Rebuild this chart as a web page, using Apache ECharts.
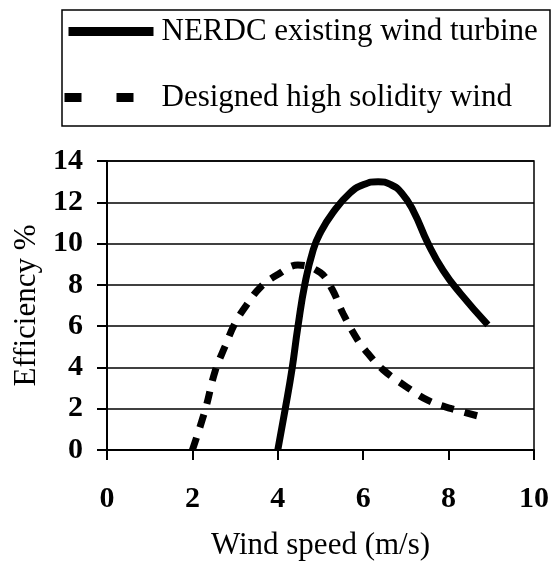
<!DOCTYPE html>
<html>
<head>
<meta charset="utf-8">
<script src="https://cdn.jsdelivr.net/npm/echarts@6/dist/echarts.min.js"></script>
<style>html,body{margin:0;padding:0;background:#fff}#c{width:553px;height:566px}</style>
</head>
<body>
<div id="c"></div>
<script>
const seriesNames = ['NERDC existing wind turbine', 'Designed high solidity wind'];
const nerdcX = [4.0, 4.17, 4.33, 4.47, 4.64, 4.83, 4.99, 5.29, 5.69, 6.0, 6.35, 6.65, 6.9, 7.17, 7.52, 7.87, 8.27, 8.92];
const nerdcY = [0.0, 1.94, 3.88, 5.96, 8.1, 9.7, 10.5, 11.5, 12.45, 12.85, 13.0, 12.85, 12.45, 11.6, 10.0, 8.7, 7.6, 6.06];
const designX = [2.0, 2.3, 2.53, 2.76, 3.0, 3.26, 3.6, 4.0, 4.47, 4.99, 5.27, 5.53, 5.88, 6.08, 6.46, 7.02, 7.52, 8.07, 8.78];
const designY = [0.0, 1.94, 3.8, 5.0, 6.15, 7.0, 7.9, 8.5, 8.96, 8.6, 7.8, 6.6, 5.3, 4.75, 3.9, 3.05, 2.4, 2.0, 1.6];
const xTicks = [0, 2, 4, 6, 8, 10];
const yTicks = [0, 2, 4, 6, 8, 10, 12, 14];

const zip = (xs, ys) => xs.map((x, i) => [x, ys[i]]);
const font = 'Liberation Serif';
const chart = echarts.init(document.getElementById('c'), null, {renderer: 'canvas'});
chart.setOption({
  animation: false,
  backgroundColor: '#fff',
  grid: {left: 107, right: 19, top: 161, bottom: 116, show: true, borderColor: '#000', borderWidth: 1.5, backgroundColor: 'transparent'},
  graphic: [{type: 'rect', shape: {x: 62, y: 10, width: 488, height: 116}, style: {fill: 'none', stroke: '#000', lineWidth: 1.5}, z: 1}],
  legend: {
    orient: 'vertical', left: 56, top: 16, itemGap: 35, itemWidth: 93, itemHeight: 9,
    padding: 0,
    textStyle: {fontFamily: font, fontSize: 31, color: '#000', padding: [0, 0, 0, 3]},
    data: [
      {name: seriesNames[0], itemStyle: {opacity: 0, color: 'transparent', borderWidth: 0},
       lineStyle: {color: '#000', width: 9, type: [85, 200], dashOffset: -8, opacity: 1}},
      {name: seriesNames[1], itemStyle: {opacity: 0, color: 'transparent', borderWidth: 0},
       lineStyle: {color: '#000', width: 9, type: [17, 35], dashOffset: -4, opacity: 1}}
    ]
  },
  xAxis: {
    type: 'value', min: 0, max: 10, interval: 2,
    name: 'Wind speed (m/s)', nameLocation: 'middle', nameGap: 80,
    nameTextStyle: {fontFamily: font, fontSize: 31, color: '#000'},
    axisLine: {show: true, lineStyle: {color: '#000', width: 2}},
    axisTick: {show: true, inside: false, length: 10, lineStyle: {color: '#000', width: 2}},
    axisLabel: {margin: 34, fontFamily: font, fontSize: 30, fontWeight: 'bold', color: '#000', formatter: v => xTicks.includes(v) ? String(v) : ''},
    splitLine: {show: false}
  },
  yAxis: {
    type: 'value', min: 0, max: 14, interval: 2,
    name: 'Efficiency %', nameLocation: 'middle', nameGap: 62,
    nameTextStyle: {fontFamily: font, fontSize: 31, color: '#000'},
    axisLine: {show: true, lineStyle: {color: '#000', width: 2}},
    axisTick: {show: true, inside: false, length: 10, lineStyle: {color: '#000', width: 2}},
    axisLabel: {margin: 24, fontFamily: font, fontSize: 30, fontWeight: 'bold', color: '#000', formatter: v => yTicks.includes(v) ? String(v) : ''},
    splitLine: {show: true, lineStyle: {color: '#000', width: 1.5}}
  },
  series: [
    {name: seriesNames[0], type: 'line', data: zip(nerdcX, nerdcY), smooth: 0.5, showSymbol: false, symbol: 'none',
     lineStyle: {color: '#000', width: 7}, itemStyle: {color: '#000'}, z: 3},
    {name: seriesNames[1], type: 'line', data: zip(designX, designY), smooth: 0.4, showSymbol: false, symbol: 'none',
     lineStyle: {color: '#000', width: 7, type: [13, 11]}, itemStyle: {color: '#000'}, z: 3}
  ]
});
</script>
</body>
</html>
